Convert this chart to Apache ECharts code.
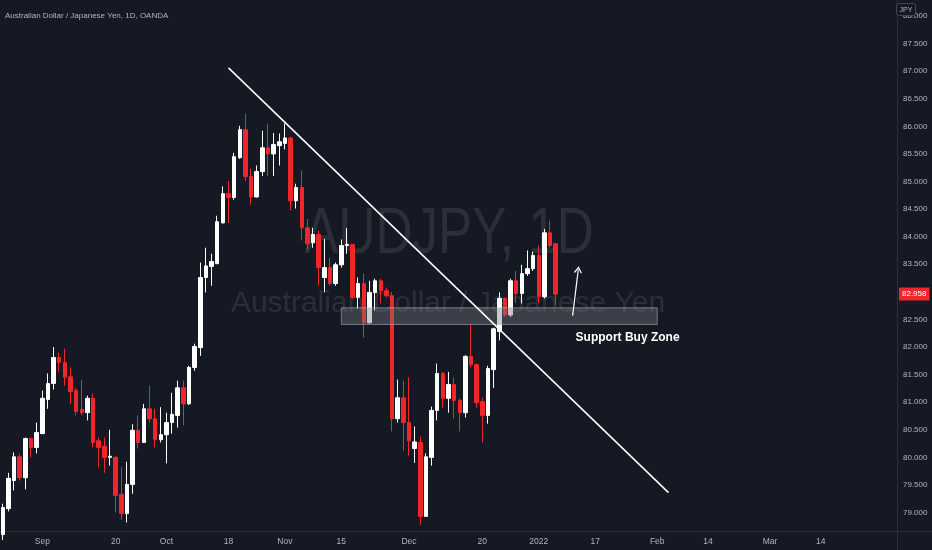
<!DOCTYPE html>
<html><head><meta charset="utf-8">
<script src="https://cdn.jsdelivr.net/npm/echarts@6/dist/echarts.min.js"></script>
<style>html,body{margin:0;padding:0;background:#151924;}#c{width:932px;height:550px;}</style>
</head><body><div id="c"></div>
<script>
// ---- DATA ----
const firstSlotDate = '2021-08-23';   // first weekday slot of the time axis
const slotCount = 159;                // weekday slots shown (incl. empty future)
const opens  = [78.60,79.07,79.58,80.01,79.63,80.34,80.18,80.43,81.05,81.34,81.81,81.72,81.46,81.21,80.87,80.81,81.07,80.30,80.20,80.00,
                80.00,79.33,78.98,79.51,80.49,80.27,80.88,80.70,80.32,80.41,80.63,80.76,81.26,80.97,81.63,81.99,83.26,83.46,83.51,84.25,
                84.78,84.71,85.43,85.94,85.09,84.72,85.18,85.61,85.50,85.65,85.69,85.79,84.65,84.89,84.16,83.89,84.04,83.26,83.44,83.15,
                83.49,83.84,83.86,82.90,83.15,82.44,82.99,83.20,83.02,82.93,80.70,81.08,80.63,80.16,80.27,78.93,80.00,80.85,81.52,81.07,
                81.32,81.03,80.81,81.83,81.68,81.01,80.76,81.59,82.28,82.88,82.58,83.20,82.97,83.33,83.42,83.66,82.91,84.07,83.87];
const closes = [79.09,79.62,80.01,79.63,80.34,80.18,80.45,81.07,81.34,81.81,81.72,81.45,81.19,80.83,80.81,81.07,80.27,80.18,80.00,80.02,
                79.31,78.98,79.51,80.49,80.27,80.88,80.70,80.32,80.41,80.63,80.78,81.26,80.97,81.63,82.01,83.26,83.47,83.55,84.27,84.78,
                84.71,85.45,85.94,85.09,84.72,85.18,85.61,85.50,85.67,85.72,85.79,84.65,84.89,84.16,83.87,84.04,83.44,83.44,83.15,83.49,
                83.84,83.86,82.90,83.15,82.44,82.99,83.20,83.02,82.93,80.70,81.08,80.63,80.30,80.28,78.93,80.01,80.85,81.52,81.07,81.32,
                81.03,80.81,81.83,81.68,80.99,80.76,81.61,82.33,82.88,82.58,83.20,82.97,83.33,83.42,83.66,82.91,84.07,83.84,82.958];
const lows   = [78.50,79.02,79.40,79.58,79.42,80.00,80.07,80.43,80.88,81.23,81.54,81.30,80.97,80.76,80.76,80.67,80.18,79.82,79.72,79.85,
                79.00,78.87,78.82,79.34,80.16,80.27,80.63,80.18,80.27,79.89,80.43,80.54,80.58,80.95,81.57,81.84,82.99,83.11,83.51,84.24,
                84.25,84.67,85.41,85.01,84.58,84.71,85.10,85.10,85.10,85.29,85.58,84.47,84.51,83.93,83.76,83.80,83.11,82.99,83.11,83.11,
                83.44,83.69,82.88,82.70,82.17,82.42,82.66,82.79,82.90,80.47,80.63,80.12,80.03,79.90,78.78,78.93,79.85,80.67,80.90,80.81,
                80.70,80.47,80.72,81.63,80.90,80.27,80.61,81.26,82.12,82.55,82.55,82.80,82.79,83.29,83.38,82.80,82.88,83.80,82.75];
const highs  = [79.16,79.72,80.09,80.07,80.36,80.36,80.63,81.21,81.52,82.00,81.90,81.97,81.63,81.26,81.41,81.12,81.16,80.36,80.36,80.50,
                80.02,79.82,79.92,80.60,80.76,80.97,81.30,80.88,80.91,80.81,81.17,81.39,81.39,81.66,82.06,83.53,83.80,83.69,84.38,84.91,
                85.01,85.52,86.01,86.23,85.23,85.29,85.92,86.05,85.88,85.87,86.05,85.81,84.96,85.20,84.32,84.16,84.11,83.96,83.62,83.53,
                83.95,84.16,83.87,83.26,83.33,83.20,83.24,83.24,83.08,83.00,81.41,81.39,81.45,80.56,80.38,80.07,80.92,81.70,81.55,81.55,
                81.45,81.07,81.85,82.41,81.70,81.08,81.66,82.35,82.99,82.90,83.24,83.38,83.49,83.75,83.73,83.84,84.14,84.29,83.89];
const timeTickLabels = {
  '2021-09-01':'Sep','2021-09-20':'20','2021-10-01':'Oct','2021-10-18':'18','2021-11-01':'Nov','2021-11-15':'15',
  '2021-12-01':'Dec','2021-12-20':'20','2022-01-03':'2022','2022-01-17':'17','2022-02-01':'Feb','2022-02-14':'14',
  '2022-03-01':'Mar','2022-03-14':'14'
};
const priceTicks = [79,79.5,80,80.5,81,81.5,82,82.5,83.5,84,84.5,85,85.5,86,86.5,87,87.5,88];
const lastPrice = 82.958;
const trendLine = [['2021-10-18', 87.06], ['2022-02-03', 79.36]];
const supportZone = [['2021-11-15', 82.71], ['2022-02-01', 82.41]];
const arrowLine = [['2022-01-11', 82.57], ['2022-01-12', 83.40]];
const zoneLabelAt = ['2022-01-11', 82.17];
const zoneLabelText = 'Support Buy Zone';
const titleText = 'Australian Dollar / Japanese Yen, 1D, OANDA';
const watermark1 = 'AUDJPY, 1D';
const watermark2 = 'Australian Dollar / Japanese Yen';
const currencyText = 'JPY';

// ---- build categories (weekday slots) ----
const categories = [];
(function(){
  const d = new Date(firstSlotDate + 'T00:00:00Z');
  while (categories.length < slotCount) {
    const wd = d.getUTCDay();
    if (wd !== 0 && wd !== 6) categories.push(d.toISOString().slice(0,10));
    d.setUTCDate(d.getUTCDate() + 1);
  }
})();
const candles = opens.map((o,i) => [o, closes[i], lows[i], highs[i]]);

const BG = '#151924', TXT = '#b2b5be', AX = '#2a2e39', RED = '#f0262b';
const FONT = '"Liberation Sans", Arial, sans-serif';
const chevron = 'path://M5,0 L10,7.5 L8.8,8.5 L5,2.8 L1.2,8.5 L0,7.5 Z';

const chart = echarts.init(document.getElementById('c'), null, {renderer:'canvas'});
chart.setOption({
  animation: false,
  backgroundColor: BG,
  textStyle: {fontFamily: FONT},
  title: {text: titleText, left: 0, top: 7, textStyle: {color: TXT, fontSize: 8, fontWeight: 'normal', fontFamily: FONT}},
  grid: {left: 0, right: 35, top: 0, bottom: 19},
  xAxis: {
    type: 'category', data: categories, boundaryGap: true,
    axisLine: {show: true, lineStyle: {color: AX}},
    axisTick: {show: false}, splitLine: {show: false},
    axisLabel: {color: TXT, fontSize: 8.5, margin: 6, fontFamily: FONT,
      interval: (i, v) => timeTickLabels[v] !== undefined,
      formatter: v => timeTickLabels[v] || ''}
  },
  yAxis: {
    type: 'value', position: 'right', min: 78.665, max: 88.29, scale: true,
    axisLine: {show: true, lineStyle: {color: AX}},
    axisTick: {show: false}, splitLine: {show: false},
    axisLabel: {color: TXT, fontSize: 8, margin: 6, fontFamily: FONT,
      customValues: priceTicks, formatter: v => v.toFixed(3)}
  },
  graphic: [
    {type: 'text', x: 449, y: 235, z: 0, scaleX: 0.8, silent: true,
      style: {text: watermark1, fill: '#2b2f3a', font: '64px ' + FONT, textAlign: 'center', textVerticalAlign: 'middle', align: 'center', verticalAlign: 'middle'}},
    {type: 'text', x: 448, y: 304, z: 0, silent: true,
      style: {text: watermark2, fill: '#2b2f3a', font: '30px ' + FONT, textAlign: 'center', textVerticalAlign: 'middle', align: 'center', verticalAlign: 'middle'}},
    {type: 'line', z: 1, silent: true, shape: {x1: 897.5, y1: 531, x2: 897.5, y2: 550}, style: {stroke: AX, lineWidth: 1}},
    {type: 'line', z: 1, silent: true, shape: {x1: 897, y1: 531.5, x2: 932, y2: 531.5}, style: {stroke: AX, lineWidth: 1}},
    {type: 'rect', z: 99, shape: {x: 898, y: 0, width: 34, height: 13}, style: {fill: BG}},
    {type: 'rect', z: 100, shape: {x: 896.5, y: 3.5, width: 19, height: 12, r: 2},
      style: {fill: BG, stroke: '#434651', lineWidth: 1}},
    {type: 'text', z: 101, x: 906, y: 10,
      style: {text: currencyText, fill: TXT, font: '7px ' + FONT, textAlign: 'center', textVerticalAlign: 'middle', align: 'center', verticalAlign: 'middle'}}
  ],
  series: [{
    type: 'candlestick', data: candles, barWidth: 4, clip: true,
    itemStyle: {color: '#ffffff', color0: RED, borderColor: '#ffffff', borderColor0: RED, borderWidth: 1},
    markLine: {
      silent: true, symbol: 'none', z: 6,
      data: [
        [{coord: trendLine[0]}, {coord: trendLine[1], lineStyle: {color: '#ffffff', width: 1.5, type: 'solid'}, label: {show: false}}],
        [{coord: arrowLine[0], symbol: 'none'}, {coord: arrowLine[1], symbol: chevron, symbolSize: [8, 7],
          lineStyle: {color: '#ffffff', width: 1.2, type: 'solid'}, label: {show: false}}],
        {yAxis: lastPrice, lineStyle: {color: 'rgba(0,0,0,0)', width: 1}, label: {show: true, position: 'end', distance: 2,
          formatter: lastPrice.toFixed(3), backgroundColor: RED, color: '#ffffff', padding: [3, 3, 2, 3], fontSize: 8, fontFamily: FONT}}
      ]
    },
    markArea: {
      silent: true, z: 6,
      itemStyle: {color: 'rgba(116,119,128,0.4)', borderColor: 'rgba(185,188,198,0.55)', borderWidth: 1},
      data: [[{coord: supportZone[0]}, {coord: supportZone[1]}]]
    },
    markPoint: {
      silent: true, z: 7,
      data: [{coord: zoneLabelAt, symbol: 'circle', symbolSize: 0,
        label: {show: true, position: 'right', distance: 3, formatter: zoneLabelText, color: '#ffffff', fontWeight: 'bold', fontSize: 12, fontFamily: FONT}}]
    }
  }]
});
</script></body></html>
